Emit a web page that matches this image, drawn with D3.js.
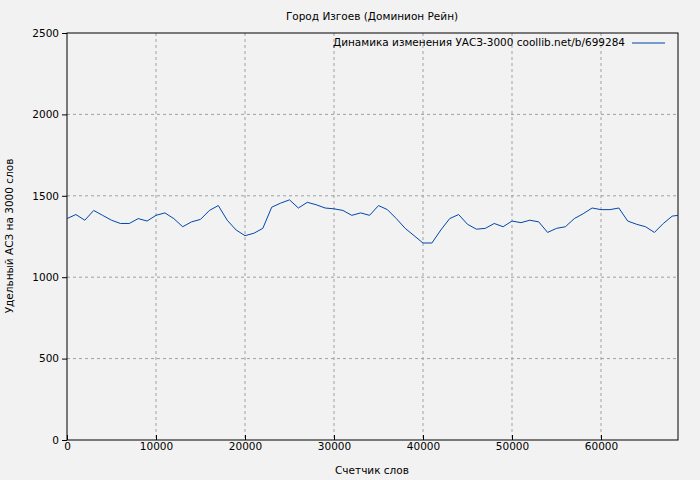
<!DOCTYPE html>
<html><head><meta charset="utf-8">
<script src="https://cdn.jsdelivr.net/npm/d3@7"></script>
<style>body{margin:0;background:#f2f2f2}text{font-family:"DejaVu Sans",sans-serif}</style>
</head><body>
<svg id="c" width="700" height="480"></svg>
<script>
// word counts and UASZ values
var words = [0,1000,2000,3000,4000,5000,6000,7000,8000,9000,10000,11000,12000,13000,14000,15000,16000,17000,18000,19000,20000,21000,22000,23000,24000,25000,26000,27000,28000,29000,30000,31000,32000,33000,34000,35000,36000,37000,38000,39000,40000,41000,42000,43000,44000,45000,46000,47000,48000,49000,50000,51000,52000,53000,54000,55000,56000,57000,58000,59000,60000,61000,62000,63000,64000,65000,66000,67000,68000,68650];
var values = [1360,1385,1350,1410,1380,1350,1330,1330,1360,1345,1380,1395,1360,1310,1340,1355,1410,1440,1350,1290,1255,1270,1300,1430,1455,1475,1425,1460,1445,1425,1420,1410,1380,1395,1380,1440,1415,1360,1300,1255,1210,1210,1290,1360,1385,1325,1295,1300,1330,1310,1345,1335,1350,1340,1275,1300,1310,1360,1390,1425,1415,1415,1425,1345,1325,1310,1275,1330,1375,1380];
var xTicks = [0,10000,20000,30000,40000,50000,60000];
var yTicks = [0,500,1000,1500,2000,2500];

var svg = d3.select("#c");
var x = d3.scaleLinear().domain([0,68650]).range([67,678]);
var y = d3.scaleLinear().domain([0,2500]).range([440,33]);

svg.append("rect").attr("width",700).attr("height",480).attr("fill","#f2f2f2");

// grid
svg.selectAll(".gx").data(xTicks.slice(1)).enter().append("line")
  .attr("x1",d=>x(d)).attr("x2",d=>x(d)).attr("y1",33).attr("y2",440)
  .attr("stroke","#a0a0a0").attr("stroke-dasharray","3,3");
svg.selectAll(".gy").data(yTicks.slice(1,-1)).enter().append("line")
  .attr("x1",67).attr("x2",678).attr("y1",d=>y(d)).attr("y2",d=>y(d))
  .attr("stroke","#a0a0a0").attr("stroke-dasharray","3,3");

svg.append("g").attr("transform","translate(0,440)")
  .call(d3.axisBottom(x).tickValues(xTicks).tickFormat(d3.format("d")).tickSizeInner(-5).tickSizeOuter(0))
  .call(g=>g.select(".domain").remove());
svg.append("g").attr("transform","translate(67,0)")
  .call(d3.axisLeft(y).tickValues(yTicks).tickFormat(d3.format("d")).tickSizeInner(5).tickSizeOuter(0))
  .call(g=>g.select(".domain").remove());
svg.selectAll(".tick text").attr("font-size",10.5).attr("fill","#000");

svg.append("rect").attr("x",67).attr("y",33).attr("width",611).attr("height",407)
  .attr("fill","none").attr("stroke","#000");

svg.append("path").datum(words.map((w,i)=>[w,values[i]]))
  .attr("d",d3.line().x(d=>x(d[0])).y(d=>y(d[1])))
  .attr("fill","none").attr("stroke","#0047ab").attr("stroke-width",1);

svg.append("text").attr("x",372).attr("y",20).attr("text-anchor","middle").attr("font-size",10.5)
  .text("Город Изгоев (Доминион Рейн)");
svg.append("text").attr("x",372).attr("y",474).attr("text-anchor","middle").attr("font-size",10.5)
  .text("Счетчик слов");
svg.append("text").attr("transform","translate(13,236) rotate(-90)").attr("text-anchor","middle").attr("font-size",10.5)
  .text("Удельный АСЗ на 3000 слов");
svg.append("text").attr("x",625).attr("y",46).attr("text-anchor","end").attr("font-size",10.5)
  .attr("textLength",292).attr("lengthAdjust","spacingAndGlyphs")
  .text("Динамика изменения УАСЗ-3000 coollib.net/b/699284");
svg.append("line").attr("x1",632).attr("x2",665).attr("y1",43).attr("y2",43).attr("stroke","#0047ab");
</script>
</body></html>
